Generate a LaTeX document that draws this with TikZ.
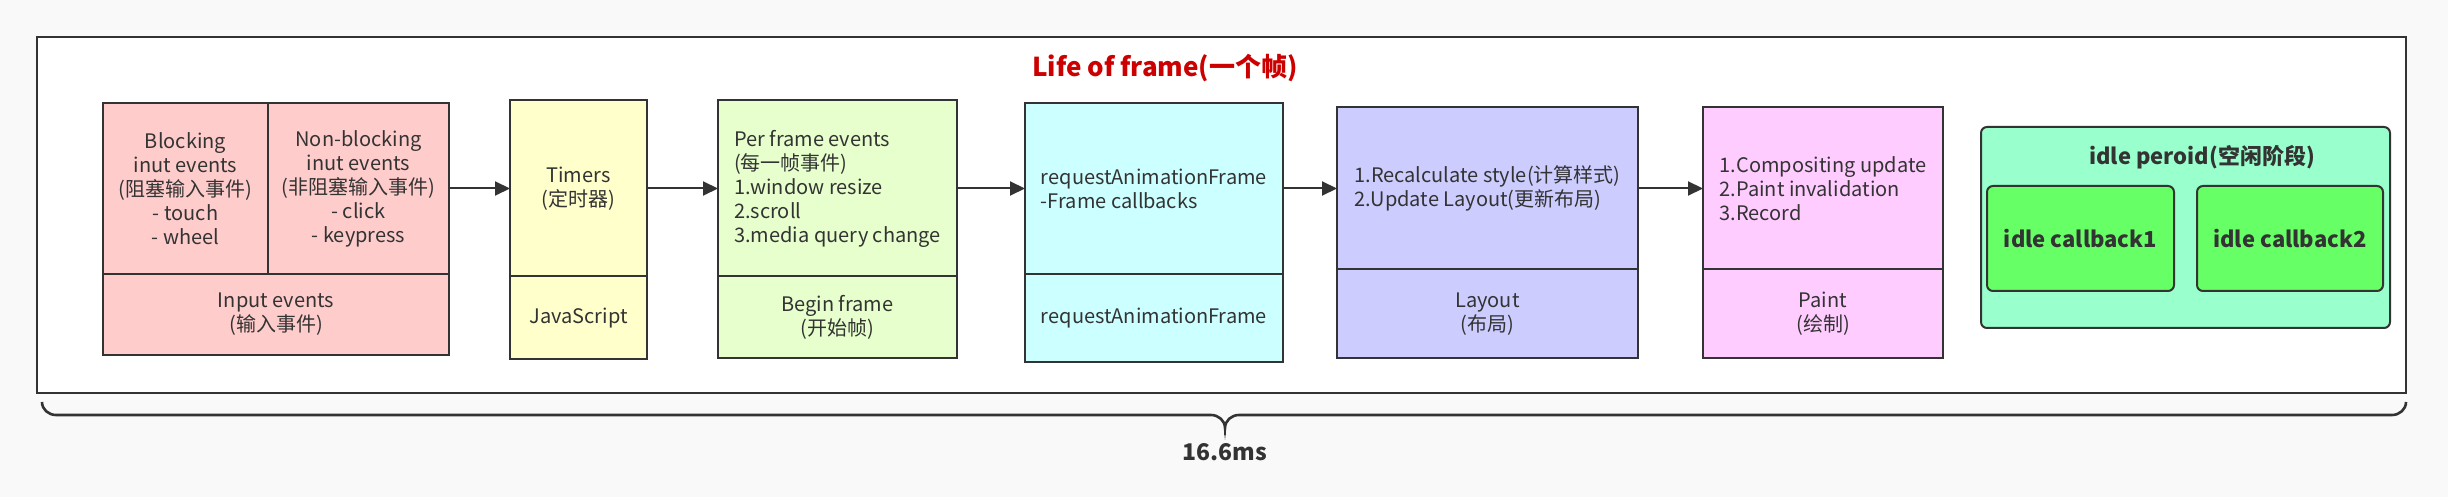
\documentclass[tikz,border=0pt]{standalone}
\usepackage{fontspec}
\setmainfont{Noto Sans CJK SC}
\usetikzlibrary{positioning}
\usetikzlibrary{arrows.meta}
\definecolor{ink}{HTML}{333333}
\definecolor{bggray}{HTML}{F9F9F9}
\definecolor{titlered}{HTML}{CC0000}
\definecolor{inpink}{HTML}{FFCCCC}
\definecolor{jsyellow}{HTML}{FFFFCC}
\definecolor{bfgreen}{HTML}{E6FFCC}
\definecolor{rafcyan}{HTML}{CCFFFF}
\definecolor{lypurple}{HTML}{CCCCFF}
\definecolor{ptpink}{HTML}{FFCCFF}
\definecolor{idlemint}{HTML}{99FFCC}
\definecolor{cbgreen}{HTML}{66FF66}
\tikzstyle{cell} = [rectangle,draw=ink,line width=1pt,outer sep=0pt,inner sep=0pt,align=center,text=ink,font=\fontsize{10}{12}\selectfont]
\tikzstyle{lcell} = [cell,align=left]
\tikzstyle{idlebox} = [cell,rounded corners=3pt,font=\fontsize{11}{13}\selectfont\bfseries]
\tikzstyle{brace} = [draw=ink,line width=1.3pt]
\tikzset{>={Triangle[length=7.5pt,width=7pt]}}

\begin{document}
\begin{tikzpicture}[x=0.5pt,y=-0.5pt]
  \fill [bggray] (0,0) rectangle (2448,497);
  \useasboundingbox (0,0) rectangle (2448,497);
  \node [rectangle,draw=ink,fill=white,line width=1pt,minimum width=1184.5pt,minimum height=178pt] (lifeframe) at (1221.5,215) {};
  \node [text=titlered,font=\fontsize{13}{15}\selectfont\bfseries] (title) at (1165,68) {Life of frame(一个帧)};

  % input events
  \node [cell,fill=inpink,minimum width=82.5pt,minimum height=85.5pt] (blk) at (185.5,188.5) {Blocking\\inut events\\(阻塞输入事件)\\- touch\\- wheel};
  \node [cell,fill=inpink,minimum width=90.5pt,minimum height=85.5pt,right=0pt of blk] (nonblk) {Non-blocking\\inut events\\(非阻塞输入事件)\\- click\\- keypress};
  \node [cell,fill=inpink,minimum width=173pt,minimum height=40.5pt,below right=0pt and 0pt of blk.south west] (inputev) {Input events\\(输入事件)};

  % javascript
  \node [cell,fill=jsyellow,minimum width=68.5pt,minimum height=88pt,right=30.5pt of nonblk] (timers) {Timers\\(定时器)};
  \node [cell,fill=jsyellow,minimum width=68.5pt,minimum height=41.5pt,below=0pt of timers] (js) {JavaScript};

  % begin frame
  \node [lcell,fill=bfgreen,minimum width=119.5pt,minimum height=88pt,right=35.5pt of timers] (perframe) {Per frame events\\(每一帧事件)\\1.window resize\\2.scroll\\3.media query change};
  \node [cell,fill=bfgreen,minimum width=119.5pt,minimum height=41pt,below=0pt of perframe] (beginfr) {Begin frame\\(开始帧)};

  % rAF
  \node [lcell,fill=rafcyan,minimum width=129pt,minimum height=85.5pt,right=34pt of perframe] (rafcb) {requestAnimationFrame\\-Frame callbacks};
  \node [lcell,fill=rafcyan,minimum width=129pt,minimum height=44pt,below=0pt of rafcb] (raf) {requestAnimationFrame};

  % layout
  \node [lcell,fill=lypurple,minimum width=150.5pt,minimum height=81pt,right=27pt of rafcb] (recalc) {1.Recalculate style(计算样式)\\2.Update Layout(更新布局)};
  \node [cell,fill=lypurple,minimum width=150.5pt,minimum height=44.5pt,below=0pt of recalc] (layout) {Layout\\(布局)};

  % paint
  \node [lcell,fill=ptpink,minimum width=120pt,minimum height=81pt,right=32.5pt of recalc] (paintops) {1.Compositing update\\2.Paint invalidation\\3.Record};
  \node [cell,fill=ptpink,minimum width=120pt,minimum height=44.5pt,below=0pt of paintops] (paint) {Paint\\(绘制)};

  % idle
  \node [idlebox,fill=idlemint,minimum width=204.5pt,minimum height=100.5pt] (idle) at (2185.5,227.5) {};
  \node [text=ink,font=\fontsize{11}{13}\selectfont\bfseries] (idletitle) at (2202,157) {idle peroid(空闲阶段)};
  \node [idlebox,fill=cbgreen,minimum width=93.5pt,minimum height=52.5pt] (idlecb1) at (2080.5,238.5) {idle callback1};
  \node [idlebox,fill=cbgreen,minimum width=93pt,minimum height=52.5pt] (idlecb2) at (2290,238.5) {idle callback2};

	\draw [->,draw=ink,line width=1pt] (nonblk) -- (timers);
	\draw [->,draw=ink,line width=1pt] (timers) -- (perframe);
	\draw [->,draw=ink,line width=1pt] (perframe) -- (rafcb);
	\draw [->,draw=ink,line width=1pt] (rafcb) -- (recalc);
	\draw [->,draw=ink,line width=1pt] (recalc) -- (paintops);

  % 16.6ms brace
  \draw [brace] (42,402) to[out=-90,in=180] (56,415) -- (1211,415) to[out=0,in=90] (1225,428) to[out=90,in=180] (1239,415) -- (2392,415) to[out=0,in=-90] (2406,402);
  \draw [brace] (1225,427) -- (1225,435);
  \node [text=ink,font=\fontsize{11.5}{14}\selectfont\bfseries] (dur) at (1225,452) {16.6ms};
\end{tikzpicture}
\end{document}
